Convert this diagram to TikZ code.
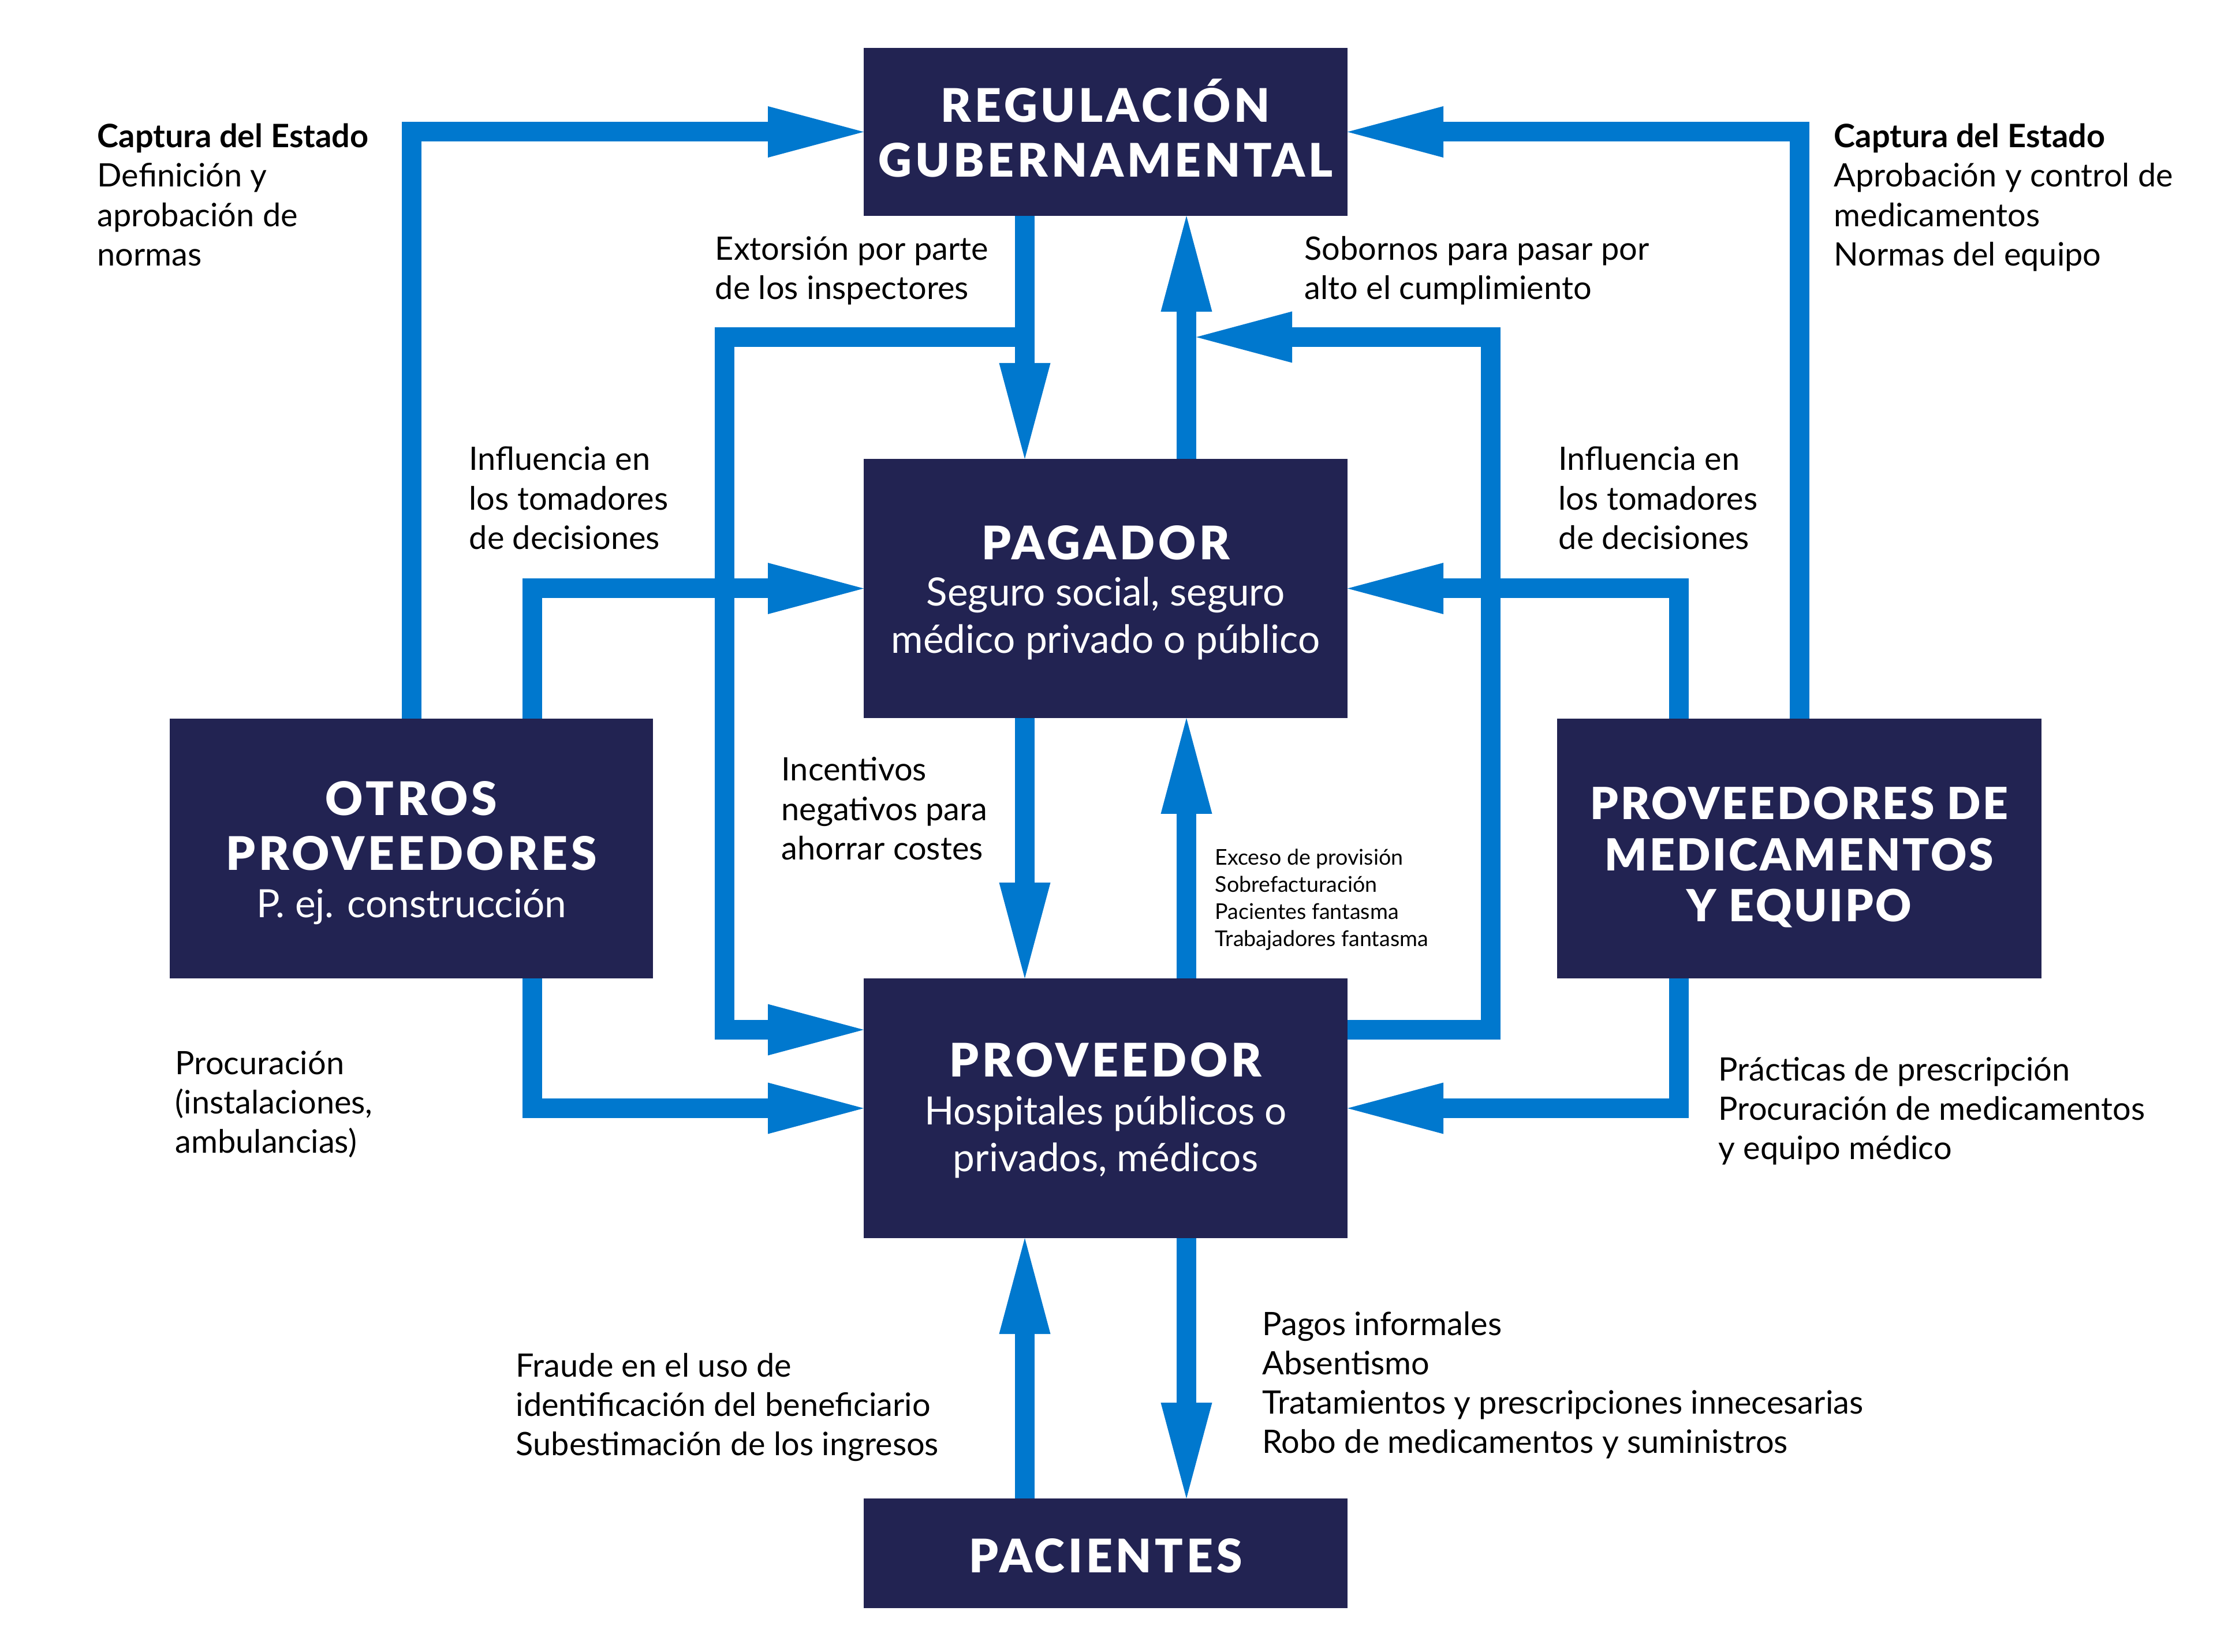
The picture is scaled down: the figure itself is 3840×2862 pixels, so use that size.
\documentclass[tikz,border=0pt]{standalone}
\usepackage{fontspec}
\setmainfont{Lato}
\newfontfamily\titlefont[LetterSpace=7.3]{Lato Black}
\newfontfamily\medtitlefont[LetterSpace=5]{Lato Black}
\usetikzlibrary{arrows.meta}
\definecolor{navy}{HTML}{222352}
\definecolor{flowblue}{HTML}{0078CE}
\newcommand{\mlines}[2][l]{\begin{tabular}[t]{@{}#1@{}}#2\end{tabular}}
\begin{document}
\begin{tikzpicture}[x=0.1mm,y=-0.1mm,
  box/.style={fill=navy,draw=none,inner sep=0pt,outer sep=0pt},
  flow/.style={draw=flowblue,line width=3.4mm,line join=miter,line cap=butt,-{Triangle[length=16.6mm,width=8.9mm,line width=0pt]}},
  lbl/.style={anchor=base west,inner sep=0pt,text=black,font=\fontsize{15.9pt}{19.35pt}\selectfont},
  smalllbl/.style={lbl,font=\fontsize{10.7pt}{13.37pt}\selectfont},
  ttl/.style={anchor=base,inner sep=0pt,text=white,font=\titlefont\fontsize{22.8pt}{27.03pt}\selectfont},
  subttl/.style={anchor=base,inner sep=0pt,text=white,font=\fontsize{19.2pt}{23.33pt}\selectfont},
]
\useasboundingbox (0,0) rectangle (3840,2862);
\fill[white] (0,0) rectangle (3840,2862);

% boxes
\node[box,minimum width=83.8mm,minimum height=29.1mm] (reg) at (1915,228.5) {};
\node[box,minimum width=83.8mm,minimum height=44.9mm] (pag) at (1915,1019.5) {};
\node[box,minimum width=83.8mm,minimum height=45mm] (prov) at (1915,1920) {};
\node[box,minimum width=83.8mm,minimum height=19mm] (pac) at (1915,2691) {};
\node[box,minimum width=83.7mm,minimum height=45mm] (otros) at (712.5,1470) {};
\node[box,minimum width=83.9mm,minimum height=45mm] (med) at (3116.5,1470) {};

% junction coordinates
\coordinate (extJ) at (1775,584);
\coordinate (extC) at (1255,584);
\coordinate (sobC) at (2582,584);
\coordinate (sobJ) at (2072,584);

% connectors
\draw[flow] (otros.north) |- (reg.west);
\draw[flow] (med.north) |- (reg.east);
\draw[flow] ([xshift=-14mm]reg.south) -- ([xshift=-14mm]pag.north);
\draw[flow] ([xshift=14mm]pag.north) -- ([xshift=14mm]reg.south);
\draw[flow] (extJ) -- (extC) |- ([yshift=13.6mm]prov.west);
\draw[flow] ([yshift=13.6mm]prov.east) -| (sobC) -- (sobJ);
\draw[flow] ([xshift=20.95mm]otros.north) |- (pag.west);
\draw[flow] ([xshift=-20.85mm]med.north) |- (pag.east);
\draw[flow] ([xshift=-14mm]pag.south) -- ([xshift=-14mm]prov.north);
\draw[flow] ([xshift=14mm]prov.north) -- ([xshift=14mm]pag.south);
\draw[flow] ([xshift=20.95mm]otros.south) |- (prov.west);
\draw[flow] ([xshift=-20.85mm]med.south) |- (prov.east);
\draw[flow] ([xshift=-14mm]pac.north) -- ([xshift=-14mm]prov.south);
\draw[flow] ([xshift=14mm]prov.south) -- ([xshift=14mm]pac.north);

% box texts
\node[ttl] (regT) at (1915,212) {\mlines[c]{REGULACIÓN\\GUBERNAMENTAL}};
\node[ttl] (pagT) at (1915,970) {PAGADOR};
\node[subttl] (pagS) at (1915,1050) {\mlines[c]{Seguro social, seguro\\médico privado o público}};
\node[ttl] (provT) at (1915,1865) {PROVEEDOR};
\node[subttl] (provS) at (1915,1948) {\mlines[c]{Hospitales públicos o\\privados, médicos}};
\node[ttl] (pacT) at (1915,2724) {PACIENTES};
\node[ttl] (otrosT) at (712.5,1413) {\mlines[c]{OTROS\\PROVEEDORES}};
\node[subttl] (otrosS) at (712.5,1590) {P. ej. construcción};
\node[ttl,font=\medtitlefont\fontsize{21.8pt}{25.04pt}\selectfont] (medT) at (3116.5,1420) {\mlines[c]{PROVEEDORES DE\\MEDICAMENTOS\\Y EQUIPO}};

% labels
\node[lbl] (capL) at (168,256) {\mlines{\textbf{Captura del Estado}\\Definición y\\aprobación de\\normas}};
\node[lbl] (capR) at (3176,256) {\mlines{\textbf{Captura del Estado}\\Aprobación y control de\\medicamentos\\Normas del equipo}};
\node[lbl] (extL) at (1238,451) {\mlines{Extorsión por parte\\de los inspectores}};
\node[lbl] (sobL) at (2259,451) {\mlines{Sobornos para pasar por\\alto el cumplimiento}};
\node[lbl] (infL) at (812,815) {\mlines{Influencia en\\los tomadores\\de decisiones}};
\node[lbl] (infR) at (2699,815) {\mlines{Influencia en\\los tomadores\\de decisiones}};
\node[lbl] (incL) at (1353,1353) {\mlines{Incentivos\\negativos para\\ahorrar costes}};
\node[smalllbl] (excL) at (2104,1498.5) {\mlines{Exceso de provisión\\Sobrefacturación\\Pacientes fantasma\\Trabajadores fantasma}};
\node[lbl] (proL) at (303,1861) {\mlines{Procuración\\(instalaciones,\\ambulancias)}};
\node[lbl] (praL) at (2976,1872) {\mlines{Prácticas de prescripción\\Procuración de medicamentos\\y equipo médico}};
\node[lbl] (fraL) at (893,2385) {\mlines{Fraude en el uso de\\identificación del beneficiario\\Subestimación de los ingresos}};
\node[lbl] (pagL) at (2186,2313) {\mlines{Pagos informales\\Absentismo\\Tratamientos y prescripciones innecesarias\\Robo de medicamentos y suministros}};
\end{tikzpicture}
\end{document}
